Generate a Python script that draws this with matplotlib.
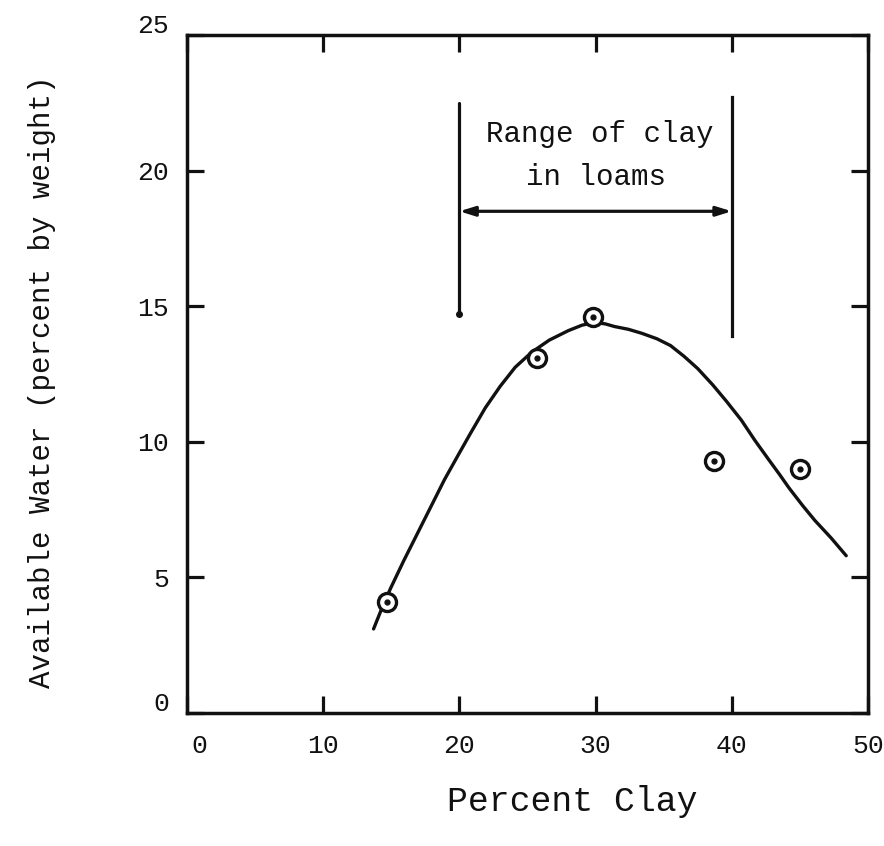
import matplotlib
matplotlib.use("Agg")
import matplotlib.pyplot as plt
import matplotlib.transforms as mtransforms

# Measured samples
clay_pts = [14.7, 25.7, 29.8, 38.7, 45.0]
water_pts = [4.1, 13.1, 14.6, 9.3, 9.0]

# Hand-fitted trend curve, read point by point
curve_x = [13.7, 14.3, 14.95, 15.9, 16.9, 17.9, 18.9, 19.9, 20.8, 21.9, 23.0,
           24.1, 25.3, 26.6, 28.0, 29.0, 29.9, 30.7, 31.4, 32.4, 33.4, 34.5,
           35.5, 36.5, 37.5, 38.6, 39.6, 40.7, 41.7, 42.7, 43.5, 44.2, 45.2,
           46.1, 47.3, 48.4]
curve_y = [3.1, 3.85, 4.6, 5.6, 6.6, 7.6, 8.6, 9.5, 10.3, 11.25, 12.05,
           12.75, 13.3, 13.75, 14.1, 14.3, 14.4, 14.35, 14.25, 14.15, 14.0, 13.8,
           13.55, 13.15, 12.7, 12.1, 11.5, 10.8, 10.05, 9.35, 8.8, 8.3, 7.65,
           7.1, 6.45, 5.8]

x_ticks = [0, 10, 20, 30, 40, 50]
y_ticks = [0, 5, 10, 15, 20, 25]

loam_range = [20, 40]
bracket_left_y = [14.7, 22.5]
bracket_right_y = [13.9, 22.7]
arrow_y = 18.5

FONT = ["Liberation Mono", "DejaVu Sans Mono"]
INK = "#111111"

fig = plt.figure(figsize=(8.84, 8.46), dpi=100)
ax = fig.add_axes([0.2115, 0.1572, 0.7704, 0.8014])

ax.set_xlim(0, 50)
ax.set_ylim(0, 25)

# Trend curve and data markers (open circle with centre dot)
ax.plot(curve_x, curve_y, color=INK, lw=2.4, solid_capstyle="round",
        solid_joinstyle="round", zorder=3)
ax.plot(clay_pts, water_pts, linestyle="none", marker="o", markersize=13,
        markerfacecolor="white", markeredgecolor=INK, markeredgewidth=2.4,
        zorder=4)
ax.plot(clay_pts, water_pts, linestyle="none", marker="o", markersize=3.5,
        color=INK, zorder=5)

# Loam clay range bracket
ax.plot([loam_range[0]] * 2, bracket_left_y, color=INK, lw=2.3,
        solid_capstyle="round")
ax.plot([loam_range[0]], [bracket_left_y[0]], marker="o", markersize=4,
        color=INK)
ax.plot([loam_range[1]] * 2, bracket_right_y, color=INK, lw=2.3)
ax.annotate("", xy=(loam_range[0], arrow_y), xytext=(loam_range[1], arrow_y),
            arrowprops=dict(arrowstyle="<|-|>,head_length=0.9,head_width=0.28",
                            color=INK, lw=2.3, shrinkA=0, shrinkB=0))
ax.text(sum(loam_range) / 2 + 0.3, 21.35, "Range of clay", ha="center",
        va="center", fontsize=21, family=FONT, color=INK)
ax.text(sum(loam_range) / 2, 19.75, "in loams", ha="center", va="center",
        fontsize=21, family=FONT, color=INK)

# Frame and ticks on all four sides, pointing inward
for s in ax.spines.values():
    s.set_linewidth(2.5)
    s.set_color(INK)
ax.set_xticks(x_ticks)
ax.set_yticks(y_ticks)
ax.tick_params(direction="in", length=12, width=2.3, colors=INK,
               top=True, right=True, labelsize=19)
ax.tick_params(axis="x", pad=15)
ax.tick_params(axis="y", pad=13)
for lab in ax.get_xticklabels() + ax.get_yticklabels():
    lab.set_family(FONT)

# Typed end labels sit slightly off their ticks
xlabels = ax.get_xticklabels()
xlabels[0].set_transform(xlabels[0].get_transform() +
                         mtransforms.ScaledTranslation(12 / 100, 0,
                                                       fig.dpi_scale_trans))
ylabels = ax.get_yticklabels()
for i in (0, -1):
    ylabels[i].set_transform(ylabels[i].get_transform() +
                             mtransforms.ScaledTranslation(0, 12 / 100,
                                                           fig.dpi_scale_trans))

ax.set_xlabel("Percent Clay", fontsize=25, family=FONT, color=INK)
ax.xaxis.set_label_coords(0.566, -0.106)
ax.set_ylabel("Available Water (percent by weight)", fontsize=21,
              family=FONT, color=INK)
ax.yaxis.set_label_coords(-0.193, 0.488)

fig.savefig("out.png", dpi=100, facecolor="white")
